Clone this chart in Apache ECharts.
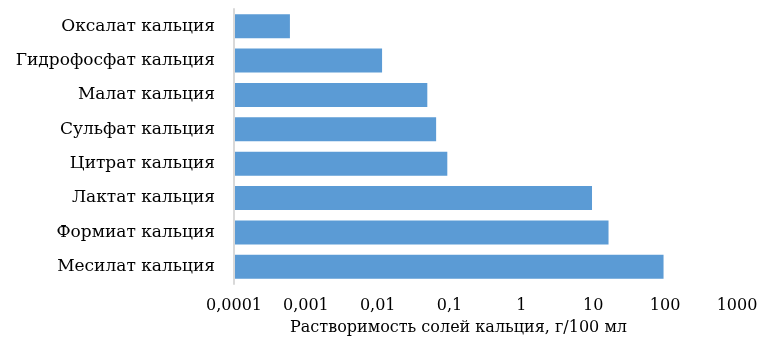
<!DOCTYPE html>
<html><head><meta charset="utf-8">
<script src="https://cdn.jsdelivr.net/npm/echarts@6/dist/echarts.min.js"></script>
<style>html,body{margin:0;padding:0;background:#fff}#c{width:758px;height:340px}</style>
</head><body><div id="c"></div>
<script>
const categories = ['Оксалат кальция','Гидрофосфат кальция','Малат кальция','Сульфат кальция','Цитрат кальция','Лактат кальция','Формиат кальция','Месилат кальция'];
const solubility = [0.0006, 0.0115, 0.049, 0.065, 0.093, 9.6, 16.3, 95];
const tickLabels = {0.0001:'0,0001',0.001:'0,001',0.01:'0,01',0.1:'0,1',1:'1',10:'10',100:'100',1000:'1000'};
const axisTitle = 'Растворимость солей кальция, г/100 мл';
const axisMin = 0.0001, axisMax = 1000;

const chart = echarts.init(document.getElementById('c'));
const font = 'DejaVu Serif';
chart.setOption({
  animation: false,
  grid: {left: 234, right: 21, top: 9, bottom: 56, containLabel: false, outerBoundsMode: 'none'},
  xAxis: {
    type: 'log', min: axisMin, max: axisMax, logBase: 10,
    axisLine: {show: false}, axisTick: {show: false}, splitLine: {show: false},
    axisLabel: {fontFamily: font, fontSize: 16, color: '#000', margin: 14, align: 'center',
      alignMinLabel: 'center', alignMaxLabel: 'center', hideOverlap: false,
      formatter: v => tickLabels[v] !== undefined ? tickLabels[v] : String(v).replace('.', ',')},
    name: axisTitle, nameLocation: 'middle', nameGap: 36, nameMoveOverlap: false,
    nameTextStyle: {fontFamily: font, fontSize: 16, color: '#000', padding: [0, 54, 0, 0]}
  },
  yAxis: {
    type: 'category', data: categories, inverse: true,
    axisLine: {show: true, lineStyle: {color: '#d9d9d9', width: 2}},
    axisTick: {show: false},
    axisLabel: {fontFamily: font, fontSize: 17, color: '#000', margin: 19}
  },
  series: [{
    type: 'custom',
    data: solubility.map((v, i) => [v, i]),
    encode: {x: 0, y: 1},
    renderItem: function (params, api) {
      const start = api.coord([axisMin, api.value(1)]);
      const end = api.coord([api.value(0), api.value(1)]);
      const h = api.size([0, 1])[1] * 0.7;
      return {
        type: 'rect',
        shape: {x: start[0] + 1, y: start[1] - h / 2, width: end[0] - start[0] - 1, height: h},
        style: {fill: '#5b9bd5'}
      };
    }
  }]
});
</script></body></html>
